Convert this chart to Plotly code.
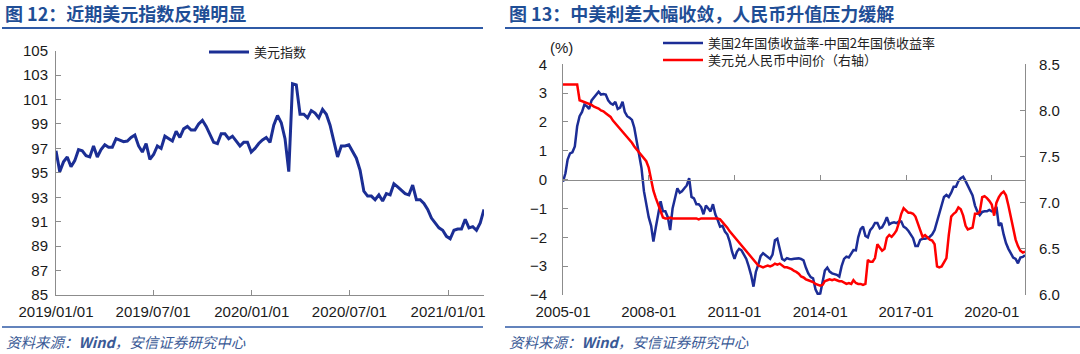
import pandas as pd
import plotly.graph_objects as go

W, H = 1080, 354

# ---------------- Left chart: US dollar index (weekly) ----------------
dxy_dates = pd.date_range("2019-01-01", periods=115, freq="7D")
dxy_values = [
    96.8, 95.1, 95.9, 96.3, 95.5, 96.0, 96.9, 96.8, 96.4, 96.3,
    97.2, 96.3, 96.9, 97.3, 97.1, 97.1, 97.8, 97.7, 97.55, 97.6,
    97.9, 98.1, 97.2, 96.7, 97.4, 96.1, 96.5, 97.2, 97.0, 98.0,
    97.8, 97.6, 98.4, 97.9, 98.6, 98.8, 98.5, 98.5, 99.0, 99.3,
    98.8, 98.2, 97.5, 97.4, 98.2, 98.2, 97.8, 98.0, 97.6, 97.2,
    97.5, 97.5, 96.7, 97.0, 97.4, 97.7, 97.9, 97.5, 98.9, 99.7,
    99.1, 97.8, 95.1, 102.3, 102.2, 99.8, 99.8, 99.5, 100.1, 99.9,
    99.5, 100.2, 99.8, 98.9, 97.6, 96.3, 97.2, 97.2, 97.3, 96.8,
    96.2, 95.2, 93.5, 93.1, 93.1, 92.8, 93.2, 92.7, 93.3, 93.2,
    94.1, 93.85, 93.6, 93.3, 93.2, 94.0, 92.8, 92.8, 92.5, 92.0,
    91.3, 90.9, 90.5, 90.3, 89.8, 89.6, 90.3, 90.4, 90.4, 91.2,
    90.5, 90.6, 90.3, 90.9, 92.0,
]
left_xticks = ["2019-01-01", "2019-07-01", "2020-01-01", "2020-07-01", "2021-01-01"]
left_xticktext = ["2019/01/01", "2019/07/01", "2020/01/01", "2020/07/01", "2021/01/01"]
left_yticks = [85, 87, 89, 91, 93, 95, 97, 99, 101, 103, 105]

# ---------------- Right chart: spread and USD/CNY (monthly) ----------------
m_dates = pd.date_range("2005-01-01", periods=195, freq="MS")
spread = [
    -0.07, 0.22, 0.7, 0.91, 0.95, 1.15, 1.85, 2.2, 2.35, 2.6,
    2.55, 2.45, 2.75, 2.85, 2.95, 3.05, 2.95, 2.97, 2.95, 2.75,
    2.65, 2.6, 2.7, 2.45, 2.5, 2.7, 2.35, 2.2, 2.15, 2.07,
    1.8, 1.35, 0.95, 0.4, -0.4, -0.85, -1.3, -1.6, -2.15, -1.65,
    -1.25, -0.75, -1.1, -1.1, -1.3, -1.75, -1.0, -0.6, -0.3, -0.45,
    -0.4, -0.3, -0.2, 0.05, -0.6, -0.65, -0.85, -0.85, -0.95, -1.2,
    -0.9, -1.0, -1.1, -0.85, -1.2, -1.4, -1.63, -1.6, -1.8, -1.9,
    -2.15, -2.5, -2.75, -2.5, -2.4, -2.45, -2.6, -2.75, -3.0, -3.3,
    -3.71, -3.2, -2.95, -2.65, -2.55, -2.62, -2.7, -2.75, -2.6, -2.1,
    -2.05, -2.4, -2.75, -2.8, -2.72, -2.75, -2.76, -2.74, -2.73, -2.73,
    -2.75, -2.8, -3.05, -3.25, -3.38, -3.42, -3.8, -3.97, -3.95, -3.45,
    -3.15, -3.05, -3.19, -3.25, -3.28, -3.3, -3.36, -3.0, -2.75, -2.67,
    -2.7, -2.55, -2.44, -2.45, -2.0, -1.72, -1.63, -1.95, -2.0, -1.75,
    -1.65, -1.5, -1.5, -1.69, -1.65, -1.5, -1.3, -1.55, -1.5, -1.48,
    -1.51, -1.45, -1.45, -1.63, -1.68, -1.78, -1.9, -2.03, -2.3, -2.3,
    -2.09, -2.05, -2.05, -2.03, -1.98, -1.9, -1.75, -1.45, -1.15, -0.8,
    -0.6, -0.53, -0.6, -0.45, -0.25, -0.25, -0.05, 0.05, 0.1, -0.05,
    -0.2, -0.35, -0.55, -0.9, -1.1, -1.23, -1.12, -1.1, -1.1, -1.05,
    -1.1, -1.05, -0.94, -1.6, -1.5, -1.9, -2.2, -2.4, -2.55, -2.7,
    -2.75, -2.9, -2.7, -2.68, -2.62,
]
usdcny = [
    8.28, 8.28, 8.28, 8.28, 8.28, 8.28, 8.28, 8.11, 8.10, 8.09,
    8.08, 8.07, 8.06, 8.04, 8.03, 8.02, 8.00, 7.99, 7.97, 7.95,
    7.93, 7.89, 7.86, 7.83, 7.80, 7.77, 7.74, 7.71, 7.68, 7.65,
    7.61, 7.58, 7.55, 7.51, 7.48, 7.45, 7.38, 7.25, 7.13, 7.05,
    6.97, 6.91, 6.84, 6.83, 6.83, 6.84, 6.83, 6.83, 6.83, 6.83,
    6.83, 6.83, 6.83, 6.83, 6.83, 6.83, 6.83, 6.82, 6.83, 6.83,
    6.83, 6.83, 6.83, 6.83, 6.83, 6.83, 6.82, 6.79, 6.77, 6.73,
    6.69, 6.66, 6.63, 6.59, 6.57, 6.54, 6.51, 6.48, 6.45, 6.42,
    6.38, 6.35, 6.32, 6.31, 6.30, 6.31, 6.32, 6.31, 6.32, 6.34,
    6.33, 6.34, 6.32, 6.30, 6.30, 6.29, 6.28, 6.26, 6.25, 6.23,
    6.20, 6.19, 6.17, 6.16, 6.15, 6.14, 6.12, 6.11, 6.10, 6.11,
    6.15, 6.16, 6.17, 6.16, 6.17, 6.16, 6.15, 6.15, 6.13, 6.12,
    6.13, 6.12, 6.16, 6.13, 6.12, 6.12, 6.11, 6.12, 6.38, 6.36,
    6.36, 6.40, 6.55, 6.52, 6.48, 6.50, 6.62, 6.65, 6.63, 6.66,
    6.70, 6.78, 6.88, 6.94, 6.92, 6.89, 6.89, 6.88, 6.85, 6.78,
    6.70, 6.63, 6.65, 6.62, 6.60, 6.59, 6.55, 6.31, 6.30, 6.31,
    6.35, 6.40, 6.65, 6.85, 6.88, 6.90, 6.95, 6.93, 6.86, 6.75,
    6.71, 6.72, 6.73, 6.88, 6.88, 6.90, 7.06, 7.07, 7.05, 7.02,
    6.98, 6.86, 7.00, 7.06, 7.10, 7.12, 7.08, 6.97, 6.84, 6.72,
    6.60, 6.53, 6.48, 6.46, 6.47,
]
right_xticks = ["2005-01-01", "2008-01-01", "2011-01-01", "2014-01-01", "2017-01-01", "2020-01-01"]
right_xticktext = ["2005-01", "2008-01", "2011-01", "2014-01", "2017-01", "2020-01"]
spread_ticks = [-4, -3, -2, -1, 0, 1, 2, 3, 4]
cny_ticks = [6.0, 6.5, 7.0, 7.5, 8.0, 8.5]

# ---------------- styling ----------------
FONT = "Liberation Sans, Arial, Noto Sans CJK SC, sans-serif"
CJK = "Noto Sans CJK SC, Liberation Sans, sans-serif"
AXIS_GREY = "#8c8c8c"
TICK_FONT = dict(family=FONT, size=15, color="#1a1a1a")
TITLE_BLUE = "#1f4e96"
LINE_BLUE = "#2f5aa6"

def px_x(v):
    return v / W

def px_y(v):
    return 1 - v / H

lx_dom = [px_x(56), px_x(484)]
ly_dom = [px_y(295), px_y(50.7)]
rx_dom = [px_x(563), px_x(1025)]
ry_dom = [px_y(295), px_y(64.3)]
spread_range = [-4, 4]
cny_range = [6.0, 8.5]
zero_pos = ry_dom[0] + (0 - spread_range[0]) / (spread_range[1] - spread_range[0]) * (ry_dom[1] - ry_dom[0])

fig = go.Figure()
fig.add_trace(go.Scatter(
    x=dxy_dates, y=dxy_values, mode="lines", name="美元指数",
    line=dict(color="#1b2e94", width=3), xaxis="x", yaxis="y", legend="legend",
))
fig.add_trace(go.Scatter(
    x=m_dates, y=spread, mode="lines", name="美国2年国债收益率-中国2年国债收益率",
    line=dict(color="#1c2d96", width=2.5), xaxis="x2", yaxis="y2", legend="legend2",
))
fig.add_trace(go.Scatter(
    x=m_dates, y=usdcny, mode="lines", name="美元兑人民币中间价（右轴）",
    line=dict(color="#ff0000", width=2.5), xaxis="x2", yaxis="y3", legend="legend3",
))
# carrier for the tick marks sitting on the zero line
fig.add_trace(go.Scatter(
    x=[m_dates[0]], y=[0], mode="markers", marker=dict(opacity=0),
    xaxis="x3", yaxis="y2", showlegend=False, hoverinfo="skip",
))

legend_common = dict(
    bgcolor="rgba(0,0,0,0)", borderwidth=0, itemwidth=40,
    font=dict(family=CJK, size=13, color="#222"),
    xanchor="left", yanchor="middle", tracegroupgap=0,
)

common_axis = dict(automargin=False, showgrid=False, zeroline=False)

fig.update_layout(
    width=W, height=H,
    margin=dict(l=0, r=0, t=0, b=0, autoexpand=False),
    paper_bgcolor="white", plot_bgcolor="white",
    showlegend=True,
    legend=dict(x=px_x(204), y=px_y(52), **legend_common),
    legend2=dict(x=px_x(658), y=px_y(43), **legend_common),
    legend3=dict(x=px_x(658), y=px_y(60), **legend_common),
    xaxis=dict(
        domain=lx_dom, anchor="y", type="date",
        range=[dxy_dates[0], dxy_dates[-1]],
        tickvals=left_xticks, ticktext=left_xticktext,
        showline=True, linecolor=AXIS_GREY, linewidth=1,
        ticks="inside", ticklen=5, tickcolor=AXIS_GREY,
        tickfont=TICK_FONT, ticklabelstandoff=3, **common_axis,
    ),
    yaxis=dict(
        domain=ly_dom, anchor="x", range=[85, 105],
        tickvals=left_yticks,
        showline=True, linecolor=AXIS_GREY, linewidth=1,
        ticks="inside", ticklen=5, tickcolor=AXIS_GREY,
        tickfont=TICK_FONT, ticklabelstandoff=4, **common_axis,
    ),
    xaxis2=dict(
        domain=rx_dom, anchor="y2", type="date",
        range=[m_dates[0], m_dates[-1]],
        tickvals=right_xticks, ticktext=right_xticktext,
        showline=False, ticks="", tickfont=TICK_FONT, ticklabelstandoff=6,
        **common_axis,
    ),
    xaxis3=dict(
        overlaying="x2", anchor="free", position=zero_pos, type="date",
        range=[m_dates[0], m_dates[-1]], tickvals=right_xticks,
        showticklabels=False, showline=True, linecolor=AXIS_GREY, linewidth=1,
        ticks="inside", ticklen=5, tickcolor=AXIS_GREY, **common_axis,
    ),
    yaxis2=dict(
        domain=ry_dom, anchor="x2", range=spread_range,
        tickvals=spread_ticks,
        showline=True, linecolor=AXIS_GREY, linewidth=1,
        ticks="inside", ticklen=5, tickcolor=AXIS_GREY,
        tickfont=TICK_FONT, ticklabelstandoff=12, **common_axis,
    ),
    yaxis3=dict(
        overlaying="y2", side="right", anchor="x2", range=cny_range,
        tickvals=cny_ticks, tickformat=".1f",
        showline=True, linecolor=AXIS_GREY, linewidth=1,
        ticks="inside", ticklen=5, tickcolor=AXIS_GREY,
        tickfont=TICK_FONT, ticklabelstandoff=10, **common_axis,
    ),
)

annotations = [
    dict(text="<b>图 12：近期美元指数反弹明显</b>", x=px_x(3), y=px_y(13),
         font=dict(family=CJK, size=18, color=TITLE_BLUE)),
    dict(text="<b>图 13：中美利差大幅收敛，人民币升值压力缓解</b>", x=px_x(507), y=px_y(13),
         font=dict(family=CJK, size=18, color=TITLE_BLUE)),
    dict(text="资料来源：<b>Wind</b>，安信证券研究中心", x=px_x(4), y=px_y(341),
         font=dict(family=CJK, size=14.5, color="#3a5a96", style="italic")),
    dict(text="资料来源：<b>Wind</b>，安信证券研究中心", x=px_x(507), y=px_y(341),
         font=dict(family=CJK, size=14.5, color="#3a5a96", style="italic")),
    dict(text="(%)", x=px_x(548), y=px_y(48),
         font=dict(family=FONT, size=15, color="#1a1a1a")),
]
for a in annotations:
    fig.add_annotation(xref="paper", yref="paper", xanchor="left", yanchor="middle",
                       showarrow=False, **a)

for x0, x1 in [(2, 483), (505, 1080)]:
    fig.add_shape(type="line", xref="paper", yref="paper", x0=px_x(x0), x1=px_x(x1),
                  y0=px_y(28), y1=px_y(28), line=dict(color=LINE_BLUE, width=2))
    fig.add_shape(type="line", xref="paper", yref="paper", x0=px_x(x0), x1=px_x(x1),
                  y0=px_y(327), y1=px_y(327), line=dict(color=LINE_BLUE, width=1.5))

fig.write_html("out.html")
